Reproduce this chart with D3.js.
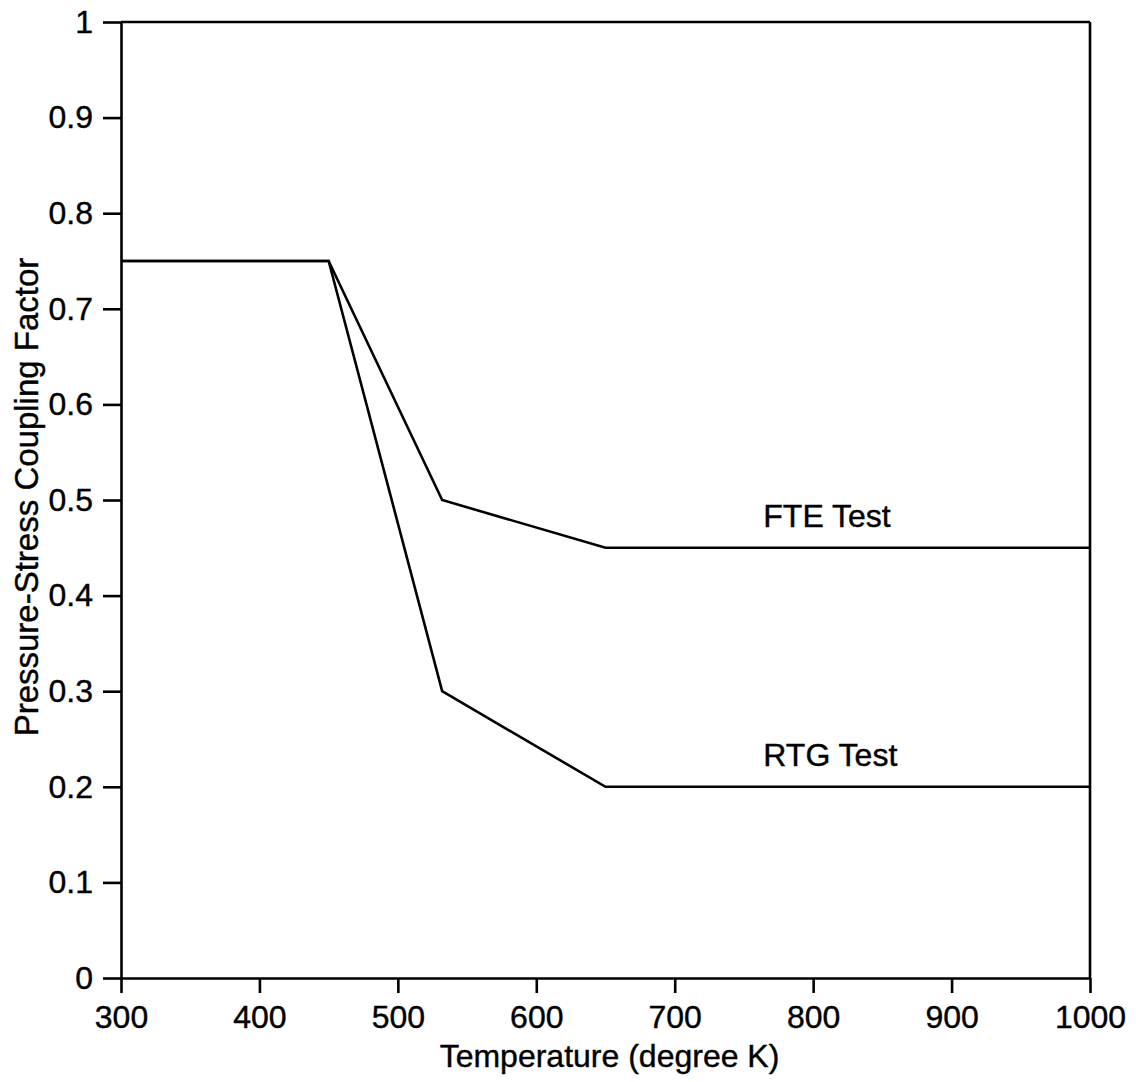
<!DOCTYPE html>
<html>
<head>
<meta charset="utf-8">
<script src="https://cdn.jsdelivr.net/npm/d3@7"></script>
<style>
  body { margin: 0; background: #fff; }
  text { font-family: "Liberation Sans", Arial, sans-serif; fill: #000; stroke: #000; stroke-width: 0.4px; }
</style>
</head>
<body>
<svg id="chart" width="1136" height="1082"></svg>
<script>
(function (d3) {
    "use strict";

    /***** Données *****/
    const temps_fte = [300, 450, 532, 650, 1000];
    const fte_values = [0.75, 0.75, 0.5, 0.45, 0.45];
    const temps_rtg = [300, 450, 532, 650, 1000];
    const rtg_values = [0.75, 0.75, 0.3, 0.2, 0.2];

    const x_ticks = [300, 400, 500, 600, 700, 800, 900, 1000];
    const y_ticks = [0, 0.1, 0.2, 0.3, 0.4, 0.5, 0.6, 0.7, 0.8, 0.9, 1];

    const series = [
        { name: "FTE Test", x: temps_fte, y: fte_values, label_at: [764, 0.45] },
        { name: "RTG Test", x: temps_rtg, y: rtg_values, label_at: [764, 0.2] }
    ];

    /***** Configuration *****/
    var margin = { top: 22, right: 46, bottom: 104, left: 121 };
    var width = 1136 - margin.left - margin.right;   // 969
    var height = 1082 - margin.top - margin.bottom;  // 956
    var font_size = "32px";

    var svg = d3.select("#chart");
    var g = svg.append("g")
        .attr("transform", "translate(" + margin.left + "," + margin.top + ")");

    /***** Échelles *****/
    var x = d3.scaleLinear().domain([300, 1000]).range([0, width]);
    var y = d3.scaleLinear().domain([0, 1]).range([height, 0]);

    /***** Axes *****/
    var xAxis = d3.axisBottom(x).tickValues(x_ticks).tickSize(15).tickPadding(12)
        .tickSizeOuter(0).tickFormat(d3.format("d"));
    var yAxis = d3.axisLeft(y).tickValues(y_ticks).tickSize(18).tickPadding(10)
        .tickSizeOuter(0).tickFormat(d => d === 0 || d === 1 ? String(d) : d3.format(".1f")(d));

    var gx = g.append("g").attr("transform", "translate(0," + height + ")").call(xAxis);
    var gy = g.append("g").call(yAxis);

    [gx, gy].forEach(function (ax) {
        ax.selectAll("path, line").attr("stroke", "#000").attr("stroke-width", 2.6);
        ax.selectAll("text").style("font-size", font_size).attr("fill", "#000");
    });

    // cadre haut et droit
    g.append("line").attr("x1", 0).attr("x2", width).attr("y1", 0).attr("y2", 0)
        .attr("stroke", "#000").attr("stroke-width", 2.6);
    g.append("line").attr("x1", width).attr("x2", width).attr("y1", 0).attr("y2", height)
        .attr("stroke", "#000").attr("stroke-width", 2.6);

    /***** Courbes *****/
    var line = d3.line()
        .x(d => x(d[0]))
        .y(d => y(d[1]));

    series.forEach(function (s) {
        var pts = s.x.map((t, i) => [t, s.y[i]]);
        g.append("path")
            .datum(pts)
            .attr("fill", "none")
            .attr("stroke", "#000")
            .attr("stroke-width", 2.6)
            .attr("stroke-linejoin", "miter")
            .attr("d", line);

        g.append("text")
            .attr("x", x(s.label_at[0]))
            .attr("y", y(s.label_at[1]) - 21)
            .style("font-size", font_size)
            .text(s.name);
    });

    /***** Titres des axes *****/
    g.append("text")
        .attr("x", width / 2 + 4)
        .attr("y", height + 89)
        .attr("text-anchor", "middle")
        .style("font-size", font_size)
        .text("Temperature (degree K)");

    g.append("text")
        .attr("transform", "translate(" + (38 - margin.left) + "," + (497 - margin.top) + ") rotate(-90)")
        .attr("text-anchor", "middle")
        .style("font-size", "33px")
        .text("Pressure-Stress Coupling Factor");

})(d3);
</script>
</body>
</html>
